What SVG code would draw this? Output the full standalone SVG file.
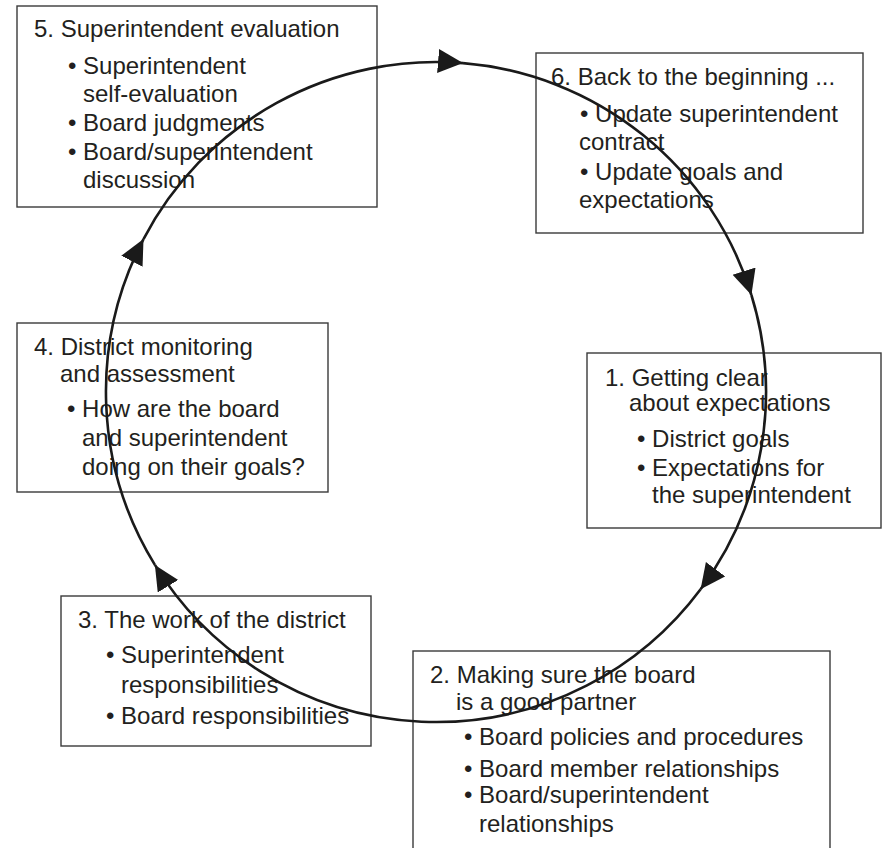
<svg xmlns="http://www.w3.org/2000/svg" width="890" height="848" viewBox="0 0 890 848">
<style>
  .box { fill: none; stroke: #3a3a3a; stroke-width: 1.4; }
  text { font-family: "Liberation Sans", Arial, Helvetica, sans-serif; font-size: 24px; fill: #231f20; }
  .loop { fill: none; stroke: #1a1a1a; stroke-width: 2.6; }
</style>
<defs>
  <marker id="arrow" markerUnits="userSpaceOnUse" markerWidth="28" markerHeight="26" refX="25" refY="12" orient="auto">
    <path d="M0,0 L25,12 L0,24 z" fill="#1a1a1a"/>
  </marker>
</defs>
<rect width="890" height="848" fill="#ffffff"/>

<g id="node5">
  <rect class="box" x="17" y="6" width="360" height="201"/>
  <text x="34" y="37">5. Superintendent evaluation</text>
  <text x="68" y="74">• Superintendent</text>
  <text x="83" y="102">self-evaluation</text>
  <text x="68" y="131">• Board judgments</text>
  <text x="68" y="160">• Board/superintendent</text>
  <text x="83" y="188">discussion</text>
</g>

<g id="node6">
  <rect class="box" x="536" y="53" width="327" height="180"/>
  <text x="551" y="85">6. Back to the beginning ...</text>
  <text x="580" y="122">• Update superintendent</text>
  <text x="579" y="150">contract</text>
  <text x="580" y="180">• Update goals and</text>
  <text x="579" y="208">expectations</text>
</g>

<g id="node4">
  <rect class="box" x="17" y="323" width="311" height="169"/>
  <text x="34" y="355">4. District monitoring</text>
  <text x="60" y="382">and assessment</text>
  <text x="67" y="417">• How are the board</text>
  <text x="82" y="446">and superintendent</text>
  <text x="82" y="475">doing on their goals?</text>
</g>

<g id="node1">
  <rect class="box" x="587" y="353" width="294" height="175"/>
  <text x="605" y="386">1. Getting clear</text>
  <text x="629" y="411">about expectations</text>
  <text x="637" y="447">• District goals</text>
  <text x="637" y="476">• Expectations for</text>
  <text x="652" y="503">the superintendent</text>
</g>

<g id="node3">
  <rect class="box" x="61" y="596" width="310" height="150"/>
  <text x="78" y="628">3. The work of the district</text>
  <text x="106" y="663">• Superintendent</text>
  <text x="121" y="693">responsibilities</text>
  <text x="106" y="724">• Board responsibilities</text>
</g>

<g id="node2">
  <rect class="box" x="413" y="651" width="417" height="210"/>
  <text x="430" y="683">2. Making sure the board</text>
  <text x="456" y="710">is a good partner</text>
  <text x="464" y="745">• Board policies and procedures</text>
  <text x="464" y="777">• Board member relationships</text>
  <text x="464" y="803">• Board/superintendent</text>
  <text x="479" y="832">relationships</text>
</g>

<g id="connectors">
  <path class="loop" d="M143.5,239.1 A330,330 0 0 1 463.0,63.1" marker-end="url(#arrow)"/>
  <path class="loop" d="M463.0,63.1 A330,330 0 0 1 751.4,295.0" marker-end="url(#arrow)"/>
  <path class="loop" d="M751.4,295.0 A330,330 0 0 1 700.6,589.2" marker-end="url(#arrow)"/>
  <path class="loop" d="M700.6,589.2 A330,330 0 0 1 154.9,564.9" marker-end="url(#arrow)"/>
  <path class="loop" d="M154.9,564.9 A330,330 0 0 1 143.5,239.1" marker-end="url(#arrow)"/>
</g>
</svg>
